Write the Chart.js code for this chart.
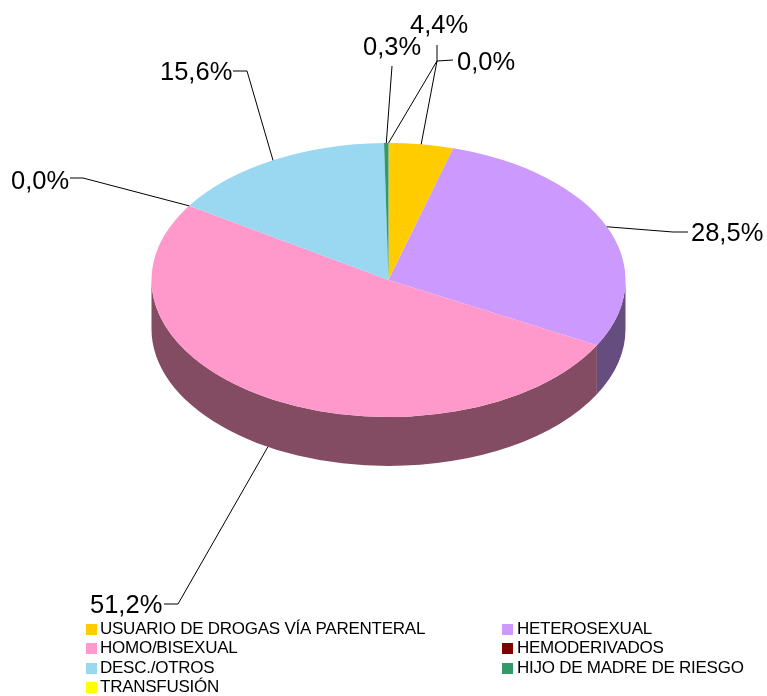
<!DOCTYPE html>
<html>
<head>
<meta charset="utf-8">
<title>Categorías de transmisión</title>
<style>
html, body { margin: 0; padding: 0; background: #fff; }
canvas { display: block; }
</style>
<script src="https://cdn.jsdelivr.net/npm/chart.js@4/dist/chart.umd.min.js"></script>
</head>
<body>
<canvas id="pieChart" width="767" height="696"></canvas>
<script>
const categories = [
    'USUARIO DE DROGAS VÍA PARENTERAL',
    'HETEROSEXUAL',
    'HOMO/BISEXUAL',
    'HEMODERIVADOS',
    'DESC./OTROS',
    'HIJO DE MADRE DE RIESGO',
    'TRANSFUSIÓN'
];
const percentValues = [4.4, 28.5, 51.2, 0.0, 15.6, 0.3, 0.0];

const sliceColors = ['#ffcc00', '#cc99ff', '#ff99cc', '#800000', '#99d8f0', '#339966', '#ffff00'];
const sideColors = ['#806600', '#664d80', '#834c62', '#400000', '#4d6c78', '#1a4d33', '#808000'];

// squash and thickness of the fake 3D pie
const SQUASH = 137 / 237;
const DEPTH = 49;

// label text position (left, middle) and leader elbow, same order as categories
const labelLayout = [
    { x: 410, y: 26, path: [[437, 45], [437, 61]] },
    { x: 691, y: 234, path: [[688, 232], [673, 232]] },
    { x: 90, y: 606, path: [[164, 604], [178, 604]] },
    { x: 11, y: 182, path: [[70, 178], [83, 178]] },
    { x: 160, y: 73, path: [[233, 71], [247, 71]] },
    { x: 363, y: 48, path: [[392, 66]] },
    { x: 457, y: 63, path: [[453, 60], [437, 61]] }
];

// legend is 2 columns, filled row by row
const legendCols = [86, 502];
const legendRows = [629, 648, 668, 687];

const pct = v => v.toFixed(1).replace('.', ',') + '%';

const fakePie3d = {
    id: 'fakePie3d',
    beforeDatasetsDraw(chart) {
        const ctx = chart.ctx;
        chart.getDatasetMeta(0).data.forEach((arc, i) => {
            const from = Math.max(arc.startAngle, 0);
            const to = Math.min(arc.endAngle, Math.PI);
            if (to <= from) return;
            const ry = arc.outerRadius * SQUASH;
            ctx.beginPath();
            ctx.ellipse(arc.x, arc.y, arc.outerRadius, ry, 0, from, to);
            ctx.ellipse(arc.x, arc.y + DEPTH, arc.outerRadius, ry, 0, to, from, true);
            ctx.closePath();
            ctx.fillStyle = sideColors[i];
            ctx.fill();
        });
    },
    beforeDatasetDraw(chart) {
        const ctx = chart.ctx;
        const arc = chart.getDatasetMeta(0).data[0];
        ctx.save();
        ctx.translate(arc.x, arc.y);
        ctx.scale(1, SQUASH);
        ctx.translate(-arc.x, -arc.y);
    },
    afterDatasetDraw(chart) {
        chart.ctx.restore();
    }
};

const pieLabels = {
    id: 'pieLabels',
    afterDraw(chart) {
        const ctx = chart.ctx;
        ctx.save();
        ctx.strokeStyle = '#000';
        ctx.lineWidth = 1;
        ctx.fillStyle = '#000';
        ctx.textBaseline = 'middle';
        ctx.textAlign = 'left';
        ctx.font = '25.5px "Liberation Sans", Arial, sans-serif';

        chart.getDatasetMeta(0).data.forEach((arc, i) => {
            const mid = (arc.startAngle + arc.endAngle) / 2;
            let px = arc.x + Math.cos(mid) * arc.outerRadius;
            let py = arc.y + Math.sin(mid) * arc.outerRadius * SQUASH;
            // lower half points sit on the bottom of the side wall
            if (Math.sin(mid) > 0.5) py += DEPTH;

            const layout = labelLayout[i];
            ctx.beginPath();
            ctx.moveTo(px, py);
            for (let k = layout.path.length - 1; k >= 0; k--) {
                ctx.lineTo(layout.path[k][0], layout.path[k][1]);
            }
            ctx.stroke();
            ctx.fillText(pct(percentValues[i]), layout.x, layout.y);
        });

        // legend
        ctx.font = '17px "Liberation Sans", Arial, sans-serif';
        ctx.letterSpacing = '-0.25px';
        categories.forEach((name, i) => {
            const x = legendCols[i % 2];
            const y = legendRows[Math.floor(i / 2)];
            ctx.fillStyle = sliceColors[i];
            ctx.fillRect(x, y - 5, 11, 11);
            ctx.fillStyle = '#000';
            ctx.fillText(name, x + 14 + (i % 2), y);
        });
        ctx.restore();
    }
};

new Chart(document.getElementById('pieChart'), {
    type: 'pie',
    data: {
        labels: categories,
        datasets: [{
            data: percentValues,
            backgroundColor: sliceColors,
            borderWidth: 0,
            clip: false
        }]
    },
    options: {
        responsive: false,
        animation: false,
        layout: { padding: { left: 151, right: 141, top: 43, bottom: 179 } },
        plugins: {
            legend: { display: false },
            tooltip: { enabled: false }
        }
    },
    plugins: [fakePie3d, pieLabels]
});
</script>
</body>
</html>
